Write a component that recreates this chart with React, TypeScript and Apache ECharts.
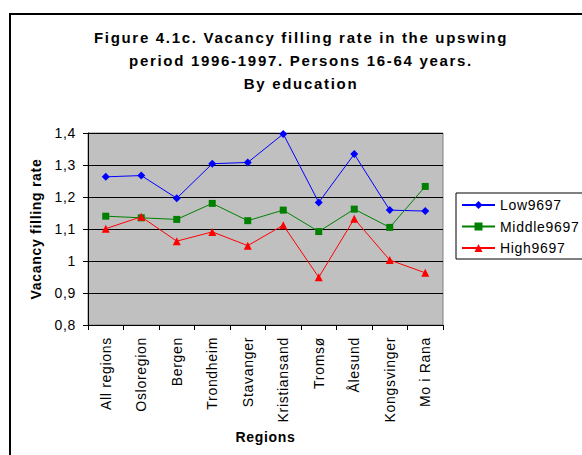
import React, { useEffect, useRef } from "react";
import * as echarts from "echarts";

const categories = [
  "All regions",
  "Osloregion",
  "Bergen",
  "Trondheim",
  "Stavanger",
  "Kristiansand",
  "Tromsø",
  "Ålesund",
  "Kongsvinger",
  "Mo i Rana",
];
const low9697 = [1.263, 1.267, 1.196, 1.304, 1.308, 1.397, 1.183, 1.334, 1.159, 1.156];
const middle9697 = [1.14, 1.135, 1.13, 1.18, 1.126, 1.159, 1.092, 1.162, 1.105, 1.233];
const high9697 = [1.101, 1.138, 1.062, 1.091, 1.048, 1.112, 0.949, 1.132, 1.003, 0.963];
const yMin = 0.8;
const yMax = 1.4;
const yStep = 0.1;

const FONT = "'Liberation Sans', Arial, sans-serif";

const css = `
#root text { letter-spacing: 0.7px; }
#root text[style*="15px"] { letter-spacing: 1.7px; }
`;

export default function App() {
  const ref = useRef<HTMLDivElement>(null);
  useEffect(() => {
    if (!ref.current) return;
    const chart = echarts.init(ref.current, null, { renderer: "svg" });
    chart.setOption({
      animation: false,
      backgroundColor: "#ffffff",
      textStyle: { fontFamily: FONT },
      title: {
        text: "Figure 4.1c. Vacancy filling rate in the upswing\nperiod 1996-1997. Persons 16-64 years.\nBy education",
        left: 301,
        top: 26,
        textAlign: "center",
        padding: 0,
        textStyle: {
          fontFamily: FONT,
          fontSize: 15,
          fontWeight: "bold",
          color: "#000",
          lineHeight: 23,
        },
      },
      graphic: [
        {
          type: "rect",
          shape: { x: 10, y: 14, width: 640, height: 520 },
          style: { fill: "none", stroke: "#000", lineWidth: 2 },
          silent: true,
          z: 100,
        },
      ],
      legend: {
        orient: "vertical",
        left: 456,
        top: 193,
        padding: [5, 20, 4, 5],
        itemGap: 7.5,
        itemWidth: 33,
        itemHeight: 10,
        borderColor: "#000",
        borderWidth: 1,
        backgroundColor: "#fff",
        textStyle: { fontFamily: FONT, fontSize: 14, color: "#000" },
        data: ["Low9697", "Middle9697", "High9697"],
      },
      grid: {
        left: 88,
        right: 139,
        top: 133,
        bottom: 130,
        show: true,
        backgroundColor: "#C0C0C0",
        borderColor: "#808080",
        borderWidth: 1,
      },
      xAxis: {
        type: "category",
        data: categories,
        boundaryGap: true,
        name: "Regions",
        nameLocation: "middle",
        nameGap: 105,
        nameTextStyle: { fontFamily: FONT, fontSize: 14, fontWeight: "bold", color: "#000" },
        axisLine: { lineStyle: { color: "#000", width: 1 } },
        axisTick: { show: true, length: 5, inside: false, alignWithLabel: false, lineStyle: { color: "#000" } },
        axisLabel: {
          rotate: 90,
          margin: 12,
          interval: 0,
          fontFamily: FONT,
          fontSize: 14,
          color: "#000",
        },
        splitLine: { show: false },
      },
      yAxis: {
        type: "value",
        min: yMin,
        max: yMax,
        interval: yStep,
        name: "Vacancy filling rate",
        nameLocation: "middle",
        nameGap: 45,
        nameRotate: 90,
        nameTextStyle: { fontFamily: FONT, fontSize: 14, fontWeight: "bold", color: "#000" },
        axisLine: { show: true, lineStyle: { color: "#000", width: 1 } },
        axisTick: { show: true, length: 5, inside: false, lineStyle: { color: "#000" } },
        axisLabel: {
          margin: 12,
          fontFamily: FONT,
          fontSize: 14,
          color: "#000",
          formatter: (v: number) => String(Math.round(v * 10) / 10).replace(".", ","),
        },
        splitLine: { show: true, lineStyle: { color: "#000", width: 1 } },
      },
      series: [
        {
          name: "Low9697",
          type: "line",
          data: low9697,
          symbol: "diamond",
          symbolSize: 8,
          lineStyle: { color: "#0000FF", width: 1 },
          itemStyle: { color: "#0000FF" },
        },
        {
          name: "Middle9697",
          type: "line",
          data: middle9697,
          symbol: "rect",
          symbolSize: 7,
          lineStyle: { color: "#008000", width: 1 },
          itemStyle: { color: "#008000" },
        },
        {
          name: "High9697",
          type: "line",
          data: high9697,
          symbol: "triangle",
          symbolSize: 8,
          lineStyle: { color: "#FF0000", width: 1 },
          itemStyle: { color: "#FF0000" },
        },
      ],
    });
    return () => chart.dispose();
  }, []);
  return (
    <>
      <style>{css}</style>
      <div
        ref={ref}
        style={{ position: "fixed", left: 0, top: 0, width: 582, height: 455 }}
      />
    </>
  );
}
